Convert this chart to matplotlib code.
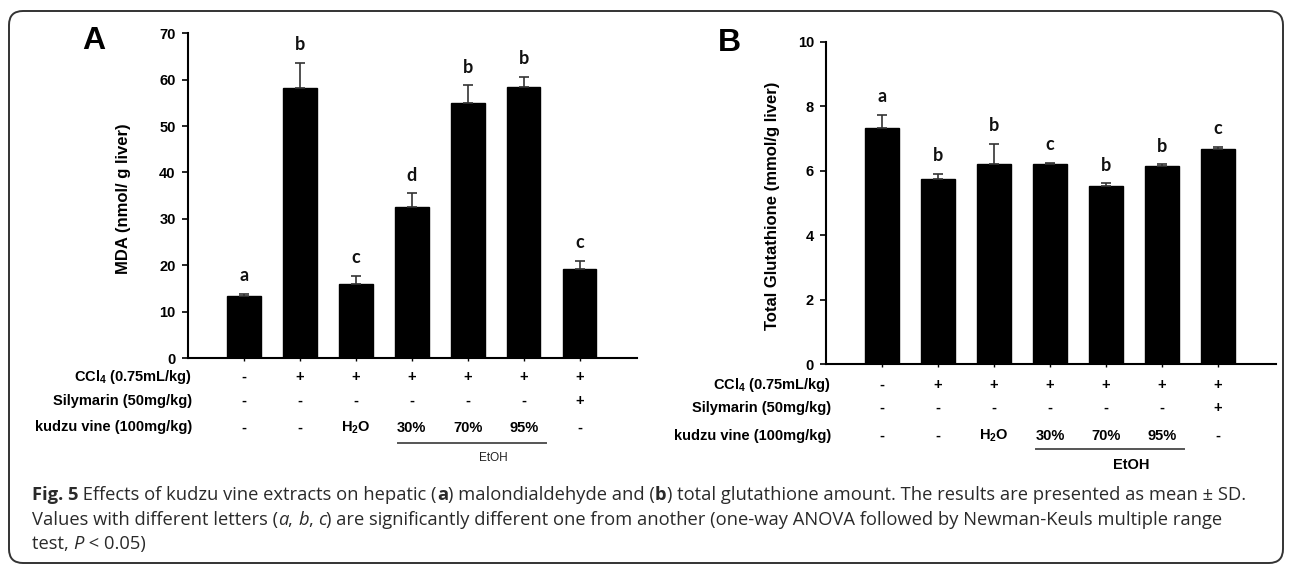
import matplotlib
matplotlib.use("Agg")
import matplotlib.pyplot as plt
import matplotlib.patches as mpatches
import matplotlib.transforms as mtransforms

plt.rcParams['font.family'] = ['Liberation Sans', 'DejaVu Sans']
plt.rcParams['mathtext.fontset'] = 'custom'
plt.rcParams['mathtext.rm'] = 'Liberation Sans:bold'
plt.rcParams['mathtext.default'] = 'rm'

# data
groups = list(range(7))
mda_mean = [13.3, 58.2, 16.0, 32.5, 55.0, 58.4, 19.1]
mda_sd = [0.5, 5.5, 1.7, 3.0, 3.8, 2.2, 1.9]
mda_letters = ['a', 'b', 'c', 'd', 'b', 'b', 'c']

gsh_mean = [7.33, 5.74, 6.21, 6.19, 5.51, 6.13, 6.66]
gsh_sd = [0.40, 0.16, 0.62, 0.06, 0.10, 0.06, 0.08]
gsh_letters = ['a', 'b', 'b', 'c', 'b', 'b', 'c']

row_labels = ['CCl$_4$ (0.75mL/kg)', 'Silymarin (50mg/kg)', 'kudzu vine (100mg/kg)']
row_ccl4 = ['-', '+', '+', '+', '+', '+', '+']
row_sily = ['-', '-', '-', '-', '-', '-', '+']
row_kudzu = ['-', '-', 'H$_2$O', '30%', '70%', '95%', '-']

W, H = 1290, 565
fig = plt.figure(figsize=(12.9, 5.65), dpi=100)

# rounded frame round the whole figure
frame = mpatches.FancyBboxPatch((9, 2), 1274, 552,
                                boxstyle='round,pad=0,rounding_size=14',
                                transform=mtransforms.IdentityTransform(),
                                facecolor='none', edgecolor='#333333', linewidth=1.4)
fig.add_artist(frame)


def px(x, y):
    # pixel position (from top-left) -> figure fraction
    return x / W, 1 - y / H


def draw_panel(rect, means, sds, letters, ylim, yticks, ylabel, ylabel_x, xlim,
               letter, letter_xy, label_right, rows_y, line_y, etoh_y, etoh_kw):
    ax = fig.add_axes(rect)
    ax.bar(groups, means, width=0.6, color='black', edgecolor='black', zorder=2)
    ax.errorbar(groups, means, yerr=[[0] * 7, sds], fmt='none', ecolor='#333333',
                elinewidth=1.2, capsize=3.3, capthick=1.2, zorder=3)
    for i in groups:
        ax.annotate(letters[i], (i, means[i] + sds[i]), xytext=(0, 13),
                    textcoords='offset points', ha='center', va='center',
                    fontsize=13, fontweight='bold', family='Lato', color='#111111')
    ax.set_xlim(*xlim)
    ax.set_ylim(*ylim)
    ax.set_yticks(yticks)
    ax.set_xticks(groups)
    ax.set_xticklabels([])
    ax.tick_params(axis='y', direction='out', length=4, width=1.2, pad=4.5,
                   labelsize=10.5)
    ax.tick_params(axis='x', direction='out', length=2, width=1)
    for lab in ax.get_yticklabels():
        lab.set_fontweight('bold')
    for s in ['top', 'right']:
        ax.spines[s].set_visible(False)
    for s in ['left', 'bottom']:
        ax.spines[s].set_linewidth(1.5)
    ax.set_ylabel(ylabel, fontsize=12, fontweight='bold')
    ax.yaxis.set_label_coords(ylabel_x, 0.49)

    fx, fy = px(*letter_xy)
    fig.text(fx, fy, letter, fontsize=23, fontweight='bold', ha='center', va='center')

    # treatment table under the bars
    tr = mtransforms.blended_transform_factory(ax.transData, fig.transFigure)
    for lab, vals, y in zip(row_labels, [row_ccl4, row_sily, row_kudzu], rows_y):
        lx, ly = px(label_right, y)
        fig.text(lx, ly, lab, ha='right', va='center', fontsize=10.5, fontweight='bold')
        for i in groups:
            ax.text(i, ly, vals[i], transform=tr, ha='center', va='center',
                    fontsize=10.5, fontweight='bold', clip_on=False)
    ly = 1 - line_y / H
    ax.plot([2.75, 5.4], [ly, ly], transform=tr, color='#555555', lw=1.4,
            clip_on=False)
    ax.text(4.45, 1 - etoh_y / H, 'EtOH', transform=tr, ha='center', va='center',
            **etoh_kw)
    return ax


draw_panel([187.5 / W, (H - 358) / H, 449.2 / W, 324.7 / H],
           mda_mean, mda_sd, mda_letters, (0, 70), range(0, 71, 10),
           'MDA (nmol/ g liver)', -0.125, (-1.01, 7.02),
           'A', (93.5, 41), 192, [377, 401, 427.5], 442.5, 458,
           dict(fontsize=8.5, color='#222222'))

draw_panel([825.7 / W, (H - 364) / H, 450.3 / W, 322.3 / H],
           gsh_mean, gsh_sd, gsh_letters, (0, 10), range(0, 11, 2),
           'Total Glutathione (mmol/g liver)', -0.102, (-1.01, 7.04),
           'B', (729, 43), 831, [385, 408, 436], 449, 465,
           dict(fontsize=10.5, fontweight='bold'))

# caption with mixed bold / italic pieces
cap_font = dict(family=['Open Sans', 'DejaVu Sans'], fontsize=13.2, color='#2a2a2a')
caption = [
    [("Fig. 5", 'bold'), (" Effects of kudzu vine extracts on hepatic (", 'n'), ("a", 'bold'),
     (") malondialdehyde and (", 'n'), ("b", 'bold'),
     (") total glutathione amount. The results are presented as mean \u00b1 SD.", 'n')],
    [("Values with different letters (", 'n'), ("a", 'it'), (", ", 'n'), ("b", 'it'), (", ", 'n'),
     ("c", 'it'),
     (") are significantly different one from another (one-way ANOVA followed by Newman-Keuls multiple range", 'n')],
    [("test, ", 'n'), ("P", 'it'), (" < 0.05)", 'n')],
]
baselines = [500, 525, 549]

fig.canvas.draw()
renderer = fig.canvas.get_renderer()
for parts, yb in zip(caption, baselines):
    x = 32
    for txt, st in parts:
        kw = dict(cap_font)
        if st == 'bold':
            kw['fontweight'] = 'bold'
        elif st == 'it':
            kw['fontstyle'] = 'italic'
        t = fig.text(x, H - yb, txt, transform=mtransforms.IdentityTransform(),
                     ha='left', va='baseline', **kw)
        x += t.get_window_extent(renderer).width
    print('caption line ends at', x)

fig.savefig('out.png', dpi=100)
